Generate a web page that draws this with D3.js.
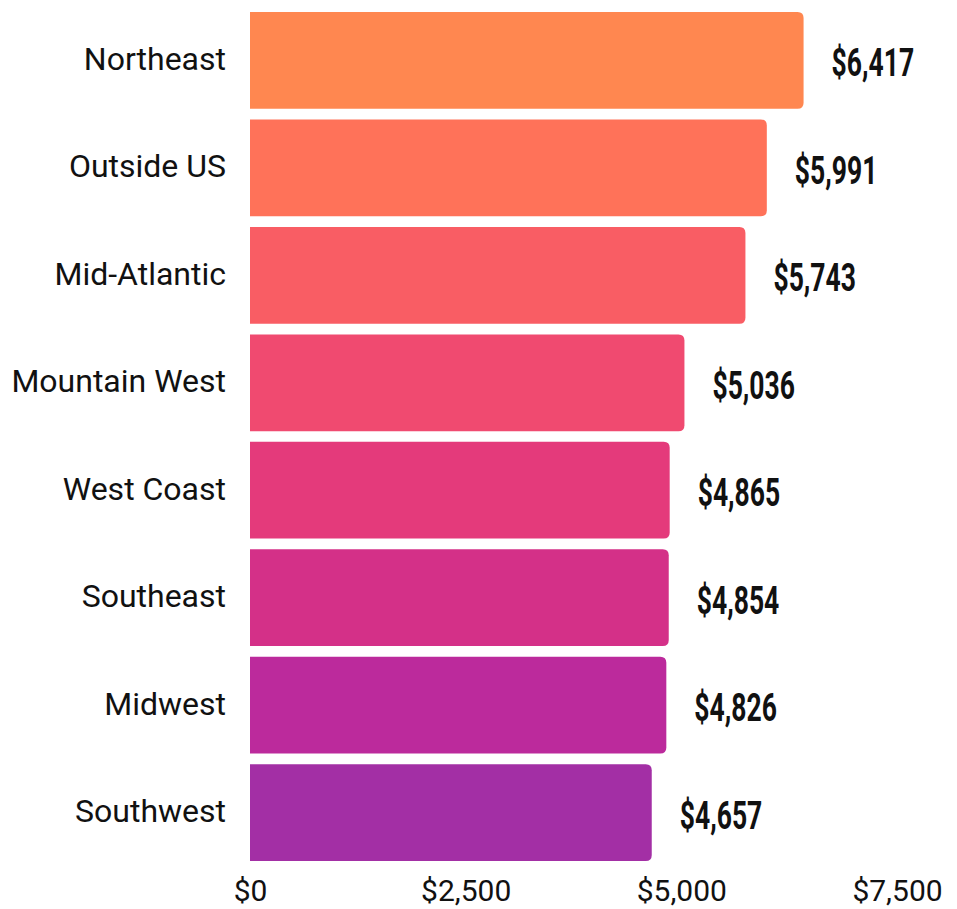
<!DOCTYPE html>
<html>
<head>
<meta charset="utf-8">
<script src="https://cdn.jsdelivr.net/npm/d3@7"></script>
<style>
body { margin: 0; background: #fff; }
</style>
</head>
<body>
<script>
var regiony = ["Northeast", "Outside US", "Mid-Atlantic", "Mountain West", "West Coast", "Southeast", "Midwest", "Southwest"]
var wartosci = [6417, 5991, 5743, 5036, 4865, 4854, 4826, 4657]
var kolory = ["#ff8750", "#ff7259", "#f95d64", "#f04a70", "#e43a7b", "#d43088", "#bc2a9c", "#a32fa5"]
var podzialka = [0, 2500, 5000, 7500]

var szer = 957, wys = 909
var svg = d3.select("body").append("svg")
  .attr("width", szer)
  .attr("height", wys)

var x = d3.scaleLinear().domain([0, 7500]).range([250, 897])
var y = d3.scaleBand().domain(regiony).range([12, 861]).paddingInner(0.1)

var fmt = d3.format("$,")
var r = 6

// slupki zaokraglone tylko z prawej strony
function sciezka(x0, x1, y0, h) {
  return "M" + x0 + "," + y0 +
    "H" + (x1 - r) +
    "Q" + x1 + "," + y0 + " " + x1 + "," + (y0 + r) +
    "V" + (y0 + h - r) +
    "Q" + x1 + "," + (y0 + h) + " " + (x1 - r) + "," + (y0 + h) +
    "H" + x0 + "Z"
}

var dane = regiony.map(function(d, i) { return {nazwa: d, wartosc: wartosci[i], kolor: kolory[i]} })

svg.append("g").selectAll("path").data(dane).enter().append("path")
  .attr("d", function(d) { return sciezka(x(0), x(d.wartosc), y(d.nazwa), y.bandwidth()) })
  .style("fill", function(d) { return d.kolor })

svg.append("g").selectAll("text").data(dane).enter().append("text")
  .attr("x", 226)
  .attr("y", function(d) { return y(d.nazwa) + y.bandwidth() / 2 })
  .attr("dy", "0.3em")
  .attr("text-anchor", "end")
  .style("font-family", "Roboto")
  .style("font-size", "32px")
  .style("fill", "#111")
  .text(function(d) { return d.nazwa })

// etykiety wartosci - waski pogrubiony krój udawany skalowaniem
svg.append("g").selectAll("text").data(dane).enter().append("text")
  .attr("transform", function(d) {
    return "translate(" + (x(d.wartosc) + 28) + "," + (y(d.nazwa) + y.bandwidth() / 2 + 2) + ") scale(0.68,1)"
  })
  .attr("dy", "0.36em")
  .style("font-family", "Roboto")
  .style("font-weight", "700")
  .style("font-size", "39px")
  .style("fill", "#111")
  .text(function(d) { return fmt(d.wartosc) })

var os = svg.append("g")
  .attr("transform", "translate(0,880)")
  .call(d3.axisBottom(x).tickValues(podzialka).tickFormat(fmt).tickSize(0))
os.select(".domain").remove()
os.selectAll("text")
  .style("font-family", "Roboto")
  .style("font-size", "30px")
  .style("fill", "#111")
  .attr("dy", "0.71em")
  .attr("y", 0)
</script>
</body>
</html>
